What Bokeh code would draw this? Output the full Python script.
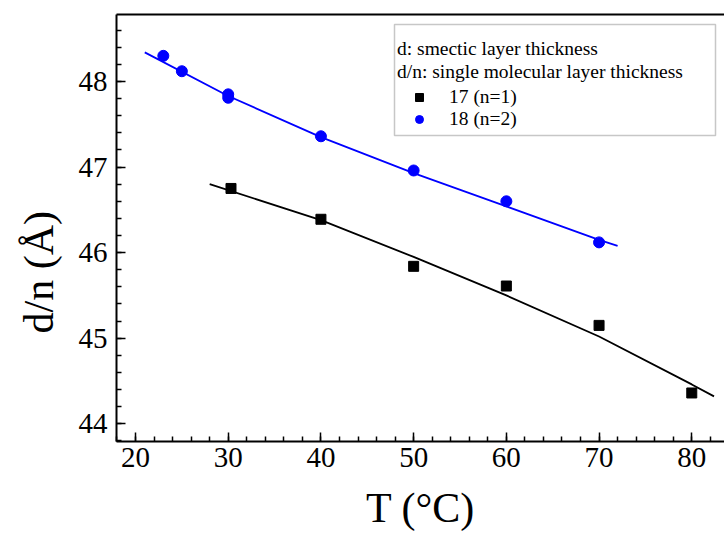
from bokeh.plotting import figure
from bokeh.models import (Range1d, SingleIntervalTicker, LinearAxis, FixedTicker,
                          Legend, LegendItem, Label, BoxAnnotation, Title)
from bokeh.embed import file_html
from bokeh.resources import INLINE

# ---- data ----
t17 = [30.3, 40, 50, 60, 70, 80]
d17 = [46.75, 46.39, 45.84, 45.61, 45.15, 44.36]
t18 = [23, 25, 30, 30, 40, 50, 60, 70]
d18 = [48.30, 48.12, 47.85, 47.81, 47.36, 46.96, 46.60, 46.12]
# fitted curves
fit17_t = [28, 40, 50, 60, 70, 80, 82.4]
fit17_d = [46.80, 46.38, 45.95, 45.50, 45.02, 44.46, 44.32]
fit18_t = [21, 30, 40, 50, 60, 70, 72]
fit18_d = [48.34, 47.83, 47.35, 46.93, 46.54, 46.15, 46.08]

x_title = "T (°C)"
y_title = "d/n (Å)"
legend_head = ["d: smectic layer thickness", "d/n: single molecular layer thickness"]
labels = ["17 (n=1)", "18 (n=2)"]

# ---- layout (page pixels) ----
W, H = 724, 536
FL, FR, FT, FB = 116, 724, 14, 441
X0, X1 = 17.95, 83.53
Y0, Y1 = 43.793, 48.783


def px2x(px):
    return X0 + (px - FL) * (X1 - X0) / (FR - FL)


def px2y(py):
    return Y1 - (py - FT) * (Y1 - Y0) / (FB - FT)


FONT = "Liberation Serif"

p = figure(width=W, height=H, x_range=Range1d(X0, X1), y_range=Range1d(Y0, Y1),
           output_backend="svg", toolbar_location=None,
           min_border_left=FL, min_border_right=W - FR,
           min_border_top=FT, min_border_bottom=H - FB)
p.grid.visible = False
p.outline_line_color = None
p.background_fill_color = "white"
p.border_fill_color = "white"

for ax, ticker in ((p.xaxis[0], SingleIntervalTicker(interval=10, num_minor_ticks=5)),
                   (p.yaxis[0], SingleIntervalTicker(interval=1, num_minor_ticks=5))):
    ax.ticker = ticker
    ax.axis_line_color = "black"
    ax.axis_line_width = 2
    ax.major_tick_line_color = "black"
    ax.minor_tick_line_color = "black"
    ax.major_tick_line_width = 1.5
    ax.minor_tick_line_width = 1.5
    ax.major_tick_in = 9
    ax.major_tick_out = 0
    ax.minor_tick_in = 5
    ax.minor_tick_out = 0
    ax.major_label_text_font = FONT
    ax.major_label_text_font_size = "29px"
    ax.major_label_text_color = "black"
p.xaxis[0].major_label_standoff = 6
p.yaxis[0].major_label_standoff = 9

xa = p.xaxis[0]
xa.axis_label = x_title
xa.axis_label_text_font = FONT
xa.axis_label_text_font_size = "42px"
xa.axis_label_text_font_style = "normal"
xa.axis_label_text_color = "black"
xa.axis_label_standoff = 15

top = LinearAxis(ticker=FixedTicker(ticks=[]), axis_line_width=2, axis_line_color="black",
                 major_tick_out=0, major_tick_in=0, minor_tick_out=0, minor_tick_in=0,
                 major_label_standoff=0)
p.add_layout(top, "above")

p.add_layout(Title(text=y_title, align="left", offset=108, vertical_align="middle",
                   text_font=FONT, text_font_size="42px", text_font_style="normal",
                   text_color="black", standoff=26), "left")

# fitted curves
p.line(fit18_t, fit18_d, line_color="#0000ff", line_width=1.8)
p.line(fit17_t, fit17_d, line_color="black", line_width=1.8)
# data points
r17 = p.scatter(t17, d17, marker="square", size=10, fill_color="black", line_color="black")
r18 = p.scatter(t18, d18, marker="circle", size=11, fill_color="#0000ff", line_color="#0000ff")

# legend box and header
box = BoxAnnotation(left=px2x(394), right=px2x(715), top=px2y(24), bottom=px2y(135),
                    fill_color="white", fill_alpha=1, line_color="#444444", line_width=1.5)
p.add_layout(box)
for i, txt in enumerate(legend_head):
    p.add_layout(Label(x=px2x(396.5), y=px2y(48 + 23 * i), text=txt,
                       text_font=FONT, text_font_size="19.5px", text_color="black",
                       text_align="left", text_baseline="alphabetic"))

legend = Legend(items=[LegendItem(label=labels[0], renderers=[r17]),
                       LegendItem(label=labels[1], renderers=[r18])],
                location=(409 - FL, FB - 130),
                border_line_color=None, background_fill_alpha=0,
                padding=0, margin=0, spacing=0,
                glyph_width=20, glyph_height=20, label_height=20,
                label_standoff=20, label_text_font=FONT,
                label_text_font_size="19.5px", label_text_color="black")
p.add_layout(legend)

open("out.html", "w").write(file_html(p, INLINE))
